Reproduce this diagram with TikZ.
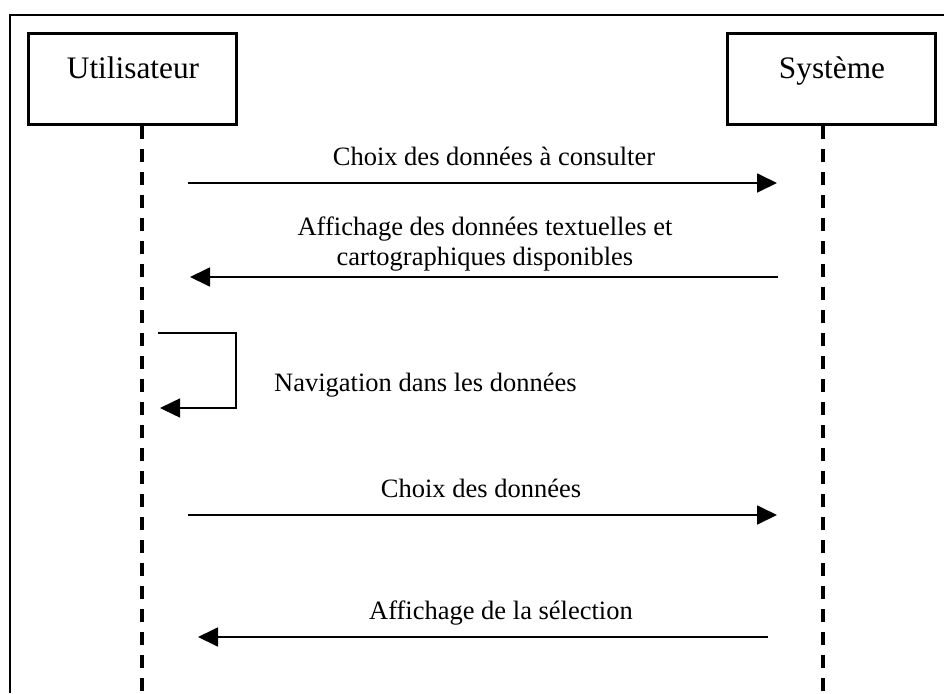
\documentclass[tikz,border=0pt]{standalone}
\usepackage{fontspec}
\setmainfont{Liberation Serif}
\usetikzlibrary{arrows.meta}
\begin{document}
\begin{tikzpicture}[x=1pt,y=-1pt,
  actor/.style={draw,line width=3pt,minimum width=208pt,minimum height=91pt,inner sep=0pt},
  titlefont/.style={font=\fontsize{31.3}{36}\selectfont},
  lblfont/.style={font=\fontsize{26.5}{29.5}\selectfont},
  lifeline/.style={line width=4pt,dash pattern=on 13pt off 10pt},
  msg/.style={line width=1.8pt,-{Triangle[length=20pt,width=19pt]}},
  selfmsg/.style={line width=1.5pt,-{Triangle[length=20pt,width=19pt]}}]
\useasboundingbox (0,0) rectangle (944,693);
% outer frame (open at right and bottom)
\draw[line width=2.6pt] (10,693) -- (10,15) -- (944,15);
% actors
\node[actor] (u) at (132.5,79) {};
\node[actor] (s) at (831.5,79) {};
\node[titlefont,anchor=base] (ut) at (133,78) {Utilisateur};
\node[titlefont,anchor=base] (st) at (832,78) {Système};
% lifelines
\coordinate (uend) at (142,693);
\coordinate (send) at (823,693);
\draw[lifeline] (u.south -| uend) -- (uend);
\draw[lifeline] (s.south -| send) -- (send);
% message 1
\coordinate (m1a) at (188,183);
\coordinate (m1b) at (777,183);
\draw[msg] (m1a) -- (m1b);
\node[lblfont,anchor=base] (l1) at (494,165) {Choix des données à consulter};
% message 2
\coordinate (m2a) at (778,277);
\coordinate (m2b) at (190,277);
\draw[msg] (m2a) -- (m2b);
\node[lblfont,anchor=base,align=center,inner sep=0pt] (l2) at (485,265) {Affichage des données textuelles et\\cartographiques disponibles};
% self message
\coordinate (n1) at (158,333);
\coordinate (n2) at (236,333);
\coordinate (n3) at (236,408);
\coordinate (n4) at (160,408);
\draw[selfmsg] (n1) -- (n2) -- (n3) -- (n4);
\node[lblfont,anchor=base west,inner sep=0pt] (l3) at (274,391) {Navigation dans les données};
% message 3
\coordinate (m3a) at (188,515);
\coordinate (m3b) at (777,515);
\draw[msg] (m3a) -- (m3b);
\node[lblfont,anchor=base] (l4) at (481,497) {Choix des données};
% message 4
\coordinate (m4a) at (768,637);
\coordinate (m4b) at (198,637);
\draw[msg] (m4a) -- (m4b);
\node[lblfont,anchor=base] (l5) at (501,619) {Affichage de la sélection};
\end{tikzpicture}
\end{document}
